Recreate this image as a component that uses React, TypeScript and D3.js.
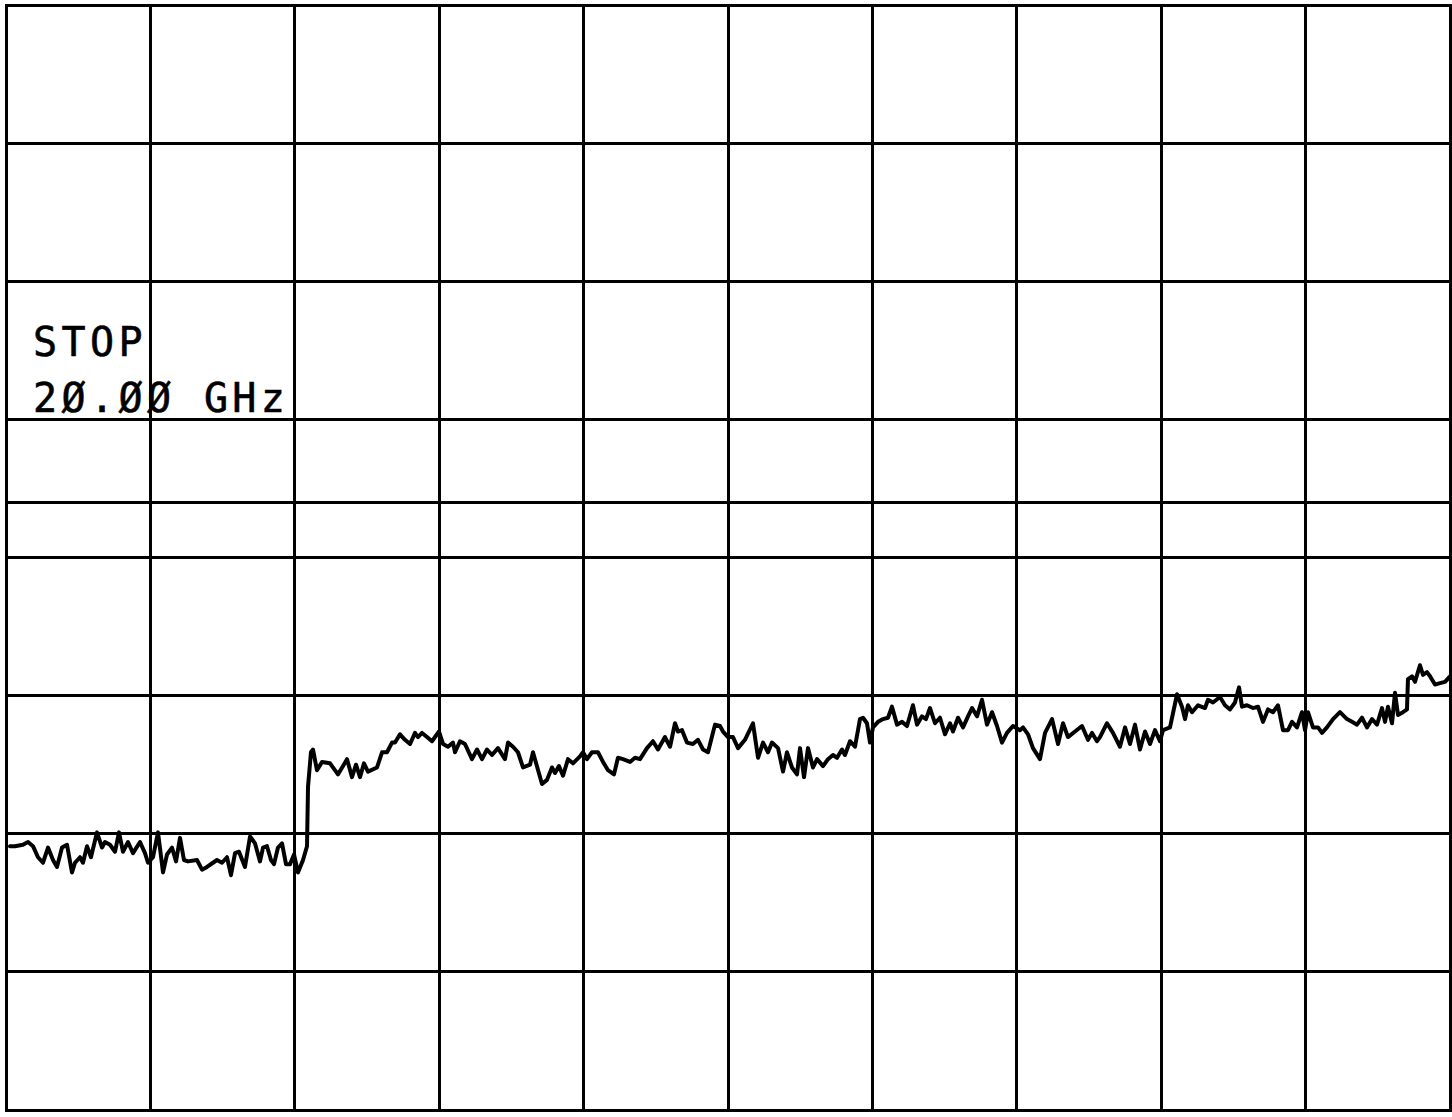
import React from "react";
import * as d3 from "d3";

// Frequency axis (GHz) grid and amplitude grid (dB)
const freqGrid = [0, 2, 4, 6, 8, 10, 12, 14, 16, 18, 20];
const ampGrid = [0, -10, -20, -30, -36, -40, -50, -60, -70, -80];
const annotationLines = ["STOP", "2Ø.ØØ GHz"];

// Trace: frequency (GHz)
const traceFreq = [
  0.055, 0.125, 0.235, 0.305, 0.374, 0.443, 0.512, 0.582, 0.651, 0.706, 0.776, 0.845, 0.914, 0.956, 1.025, 1.066, 1.122, 1.177,
  1.26, 1.33, 1.371, 1.44, 1.51, 1.565, 1.62, 1.69, 1.759, 1.856, 1.925, 1.967, 2.036, 2.105, 2.175, 2.23, 2.299, 2.355, 2.41,
  2.465, 2.521, 2.645, 2.715, 2.784, 2.867, 2.922, 2.992, 3.061, 3.116, 3.172, 3.227, 3.31, 3.38, 3.449, 3.518, 3.56, 3.615,
  3.67, 3.712, 3.767, 3.823, 3.878, 3.934, 3.989, 4.044, 4.114, 4.169, 4.183, 4.224, 4.252, 4.307, 4.377, 4.488, 4.598, 4.668,
  4.723, 4.792, 4.848, 4.903, 4.958, 5.014, 5.139, 5.208, 5.277, 5.346, 5.388, 5.457, 5.526, 5.596, 5.665, 5.706, 5.762, 5.831,
  5.9, 5.997, 6.053, 6.122, 6.191, 6.219, 6.288, 6.357, 6.454, 6.524, 6.593, 6.662, 6.731, 6.814, 6.911, 6.953, 7.022, 7.091,
  7.161, 7.258, 7.299, 7.424, 7.493, 7.562, 7.604, 7.659, 7.715, 7.784, 7.853, 7.95, 7.992, 8.047, 8.116, 8.199, 8.269, 8.338,
  8.421, 8.476, 8.546, 8.643, 8.712, 8.781, 8.878, 8.961, 9.03, 9.127, 9.197, 9.266, 9.307, 9.363, 9.432, 9.515, 9.584, 9.654,
  9.723, 9.82, 9.889, 9.931, 10.0, 10.069, 10.139, 10.235, 10.346, 10.416, 10.485, 10.554, 10.609, 10.693, 10.762, 10.817,
  10.886, 10.956, 10.997, 11.053, 11.108, 11.177, 11.233, 11.316, 11.385, 11.454, 11.51, 11.579, 11.62, 11.69, 11.759, 11.828,
  11.87, 11.925, 11.967, 12.008, 12.078, 12.147, 12.216, 12.271, 12.341, 12.41, 12.479, 12.562, 12.618, 12.687, 12.742, 12.798,
  12.867, 12.936, 13.006, 13.075, 13.116, 13.186, 13.255, 13.324, 13.38, 13.449, 13.518, 13.587, 13.657, 13.726, 13.795, 13.864,
  13.947, 14.044, 14.086, 14.155, 14.224, 14.321, 14.391, 14.488, 14.571, 14.64, 14.709, 14.806, 14.903, 14.986, 15.042, 15.111,
  15.152, 15.249, 15.332, 15.429, 15.499, 15.568, 15.637, 15.706, 15.776, 15.845, 15.914, 15.983, 16.025, 16.122, 16.219, 16.288,
  16.33, 16.371, 16.427, 16.51, 16.607, 16.648, 16.717, 16.814, 16.884, 16.953, 17.022, 17.078, 17.119, 17.188, 17.271, 17.341,
  17.41, 17.479, 17.548, 17.618, 17.687, 17.756, 17.812, 17.881, 17.95, 17.992, 18.033, 18.102, 18.172, 18.227, 18.296, 18.38,
  18.476, 18.573, 18.643, 18.712, 18.781, 18.85, 18.92, 18.989, 19.058, 19.1, 19.141, 19.197, 19.238, 19.28, 19.349, 19.404,
  19.418, 19.474, 19.515, 19.584, 19.626, 19.681, 19.723, 19.792, 19.861, 19.931, 20.0,
];

// Trace: amplitude (dB)
const traceAmp = [
  -60.9, -60.9, -60.8, -60.6, -60.9, -61.7, -62.1, -61.0, -61.9, -62.4, -61.0, -60.8, -62.8, -62.1, -61.7, -62.1, -60.9, -61.7,
  -59.9, -61.0, -60.6, -60.8, -61.3, -59.9, -61.3, -60.6, -61.4, -60.6, -61.4, -62.1, -61.7, -59.9, -62.8, -61.5, -61.0, -62.0, -60.3,
  -61.9, -62.0, -61.9, -62.6, -62.4, -62.1, -61.9, -62.1, -61.7, -63.0, -61.4, -61.3, -62.4, -60.2, -60.7, -62.0, -61.0, -60.9,
  -61.9, -62.2, -61.0, -60.7, -62.2, -62.2, -61.5, -62.8, -61.9, -60.9, -56.6, -54.1, -53.9, -55.4, -54.8, -54.9, -55.7, -55.1,
  -54.6, -55.9, -55.0, -55.9, -54.9, -55.5, -55.2, -54.1, -54.1, -53.4, -53.4, -52.8, -53.2, -53.5, -52.7, -53.0, -52.7, -53.0,
  -53.3, -52.6, -53.5, -53.7, -53.4, -54.1, -53.3, -53.5, -54.6, -53.9, -54.6, -53.9, -54.3, -53.8, -54.6, -53.4, -53.7, -54.1,
  -55.2, -55.0, -54.1, -56.4, -56.1, -55.2, -55.6, -55.1, -55.8, -54.6, -54.9, -54.4, -54.1, -54.6, -54.1, -54.1, -54.8, -55.4,
  -55.7, -54.5, -54.6, -54.8, -54.5, -54.6, -53.8, -53.3, -53.9, -53.0, -53.7, -52.0, -52.6, -52.5, -53.4, -53.5, -53.2, -53.9,
  -54.1, -52.1, -52.2, -52.6, -53.0, -53.0, -53.8, -53.2, -52.0, -54.5, -53.4, -54.1, -53.4, -53.8, -55.5, -54.1,
  -55.2, -55.7, -53.8, -55.9, -53.8, -55.2, -54.6, -55.1, -54.6, -54.3, -54.5, -53.9, -54.3, -53.3, -53.7, -51.7,
  -51.6, -52.0, -53.4, -52.3, -51.9, -51.7, -51.6, -50.8, -52.1, -51.9, -52.2, -50.7, -52.1, -51.5, -51.7, -50.9,
  -52.0, -51.6, -52.8, -52.0, -52.6, -51.6, -52.3, -51.5, -50.9, -51.5, -50.3, -52.1, -51.2, -52.2, -53.4, -52.7,
  -52.2, -52.5, -52.3, -52.8, -53.8, -54.6, -52.7, -51.7, -53.5, -52.0, -53.0, -52.6, -52.2, -53.2, -52.7, -53.3,
  -53.0, -52.0, -52.7, -53.7, -52.3, -53.5, -52.1, -53.9, -52.6, -53.5, -52.5, -53.3, -52.5, -52.3, -49.9, -50.8,
  -51.7, -50.7, -51.2, -50.7, -50.9, -50.3, -50.5, -50.1, -50.7, -51.0, -50.5, -49.4, -50.8, -50.7, -50.9, -50.8,
  -51.9, -51.0, -51.2, -50.7, -52.5, -52.5, -51.9, -52.3, -51.2, -52.5, -51.2, -52.3, -52.3, -52.7, -52.3, -51.7,
  -51.2, -51.7, -51.9, -52.1, -51.6, -52.3, -51.7, -52.1, -50.9, -51.9, -50.8, -52.0, -49.8, -51.4, -51.2, -51.0,
  -48.8, -48.6, -49.0, -47.8, -48.5, -48.3, -48.6, -49.2, -49.1, -49.0, -48.6,
];

const W = 1452;
const H = 1117;

export default function App() {
  React.useEffect(() => {
    document.body.style.margin = "0";
  }, []);

  const x = d3.scaleLinear().domain([0, 20]).range([6, 1450]);
  const y = d3.scaleLinear().domain([0, -80]).range([5, 1110]);

  const pts: [number, number][] = traceFreq.map((f, i) => [f, traceAmp[i]]);
  const line = d3
    .line<[number, number]>()
    .x((d) => x(d[0]))
    .y((d) => y(d[1]));

  return (
    <svg width={W} height={H} style={{ display: "block", background: "#ffffff" }}>
      <rect x={0} y={0} width={W} height={H} fill="#ffffff" />
      <g stroke="#000" strokeWidth={3} shapeRendering="crispEdges">
        {freqGrid.map((f) => (
          <line key={"v" + f} x1={x(f)} x2={x(f)} y1={y(0) - 1.5} y2={y(-80) + 1.5} />
        ))}
        {ampGrid.map((a) => (
          <line key={"h" + a} x1={x(0) - 1.5} x2={x(20) + 1.5} y1={y(a)} y2={y(a)} />
        ))}
      </g>
      <path
        d={line(pts) || ""}
        fill="none"
        stroke="#000"
        strokeWidth={4}
        strokeLinejoin="round"
        strokeLinecap="round"
      />
      <g
        fontFamily="'DejaVu Sans Mono', monospace"
        fontSize={40}
        fill="#000"
        stroke="#000"
        strokeWidth={0.6}
        letterSpacing={4.4}
      >
        {annotationLines.map((t, i) => (
          <text key={t} x={33} y={356 + i * 56}>
            {t}
          </text>
        ))}
      </g>
    </svg>
  );
}
